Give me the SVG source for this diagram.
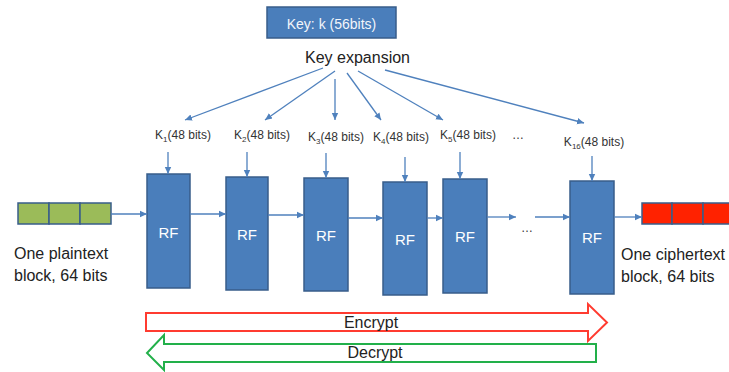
<svg xmlns="http://www.w3.org/2000/svg" width="729" height="372" viewBox="0 0 729 372">
<style>
text{font-family:"Liberation Sans",Arial,sans-serif;fill:#222}
.rf{fill:#4a7ebb;stroke:#385d8a;stroke-width:1.5}
.rft{fill:#fff;font-size:15px;text-anchor:middle}
.kl{font-size:12px;fill:#333}
.lbl{font-size:16px}
.con{stroke:#4f81bd;stroke-width:1.3;fill:none;marker-end:url(#ah)}
.g{fill:#9bbb59;stroke:#385d8a;stroke-width:1.5}
.r{fill:#ff2200;stroke:#385d8a;stroke-width:1.5}
</style>
<defs>
<marker id="ah" markerUnits="userSpaceOnUse" markerWidth="8" markerHeight="8" refX="7" refY="4" orient="auto">
<path d="M0,0.8 L7,4 L0,7.2 z" fill="#4f81bd"/>
</marker>
</defs>

<g id="key">
<rect x="267" y="7" width="129" height="31" class="rf"/>
<text x="331.5" y="29" font-size="14" text-anchor="middle" style="fill:#f2f5fa">Key: k (56bits)</text>
</g>
<g id="keyexp">
<text x="357.5" y="63" class="lbl" text-anchor="middle">Key expansion</text>
</g>

<g id="plaintext">
<rect x="18" y="203" width="31" height="21" class="g"/>
<rect x="49" y="203" width="31" height="21" class="g"/>
<rect x="80" y="203" width="31" height="21" class="g"/>
<text x="14" y="259" class="lbl">One plaintext</text>
<text x="14" y="281" class="lbl">block, 64 bits</text>
</g>
<g id="ciphertext">
<rect x="642" y="203" width="30" height="21" class="r"/>
<rect x="672" y="203" width="31" height="21" class="r"/>
<rect x="703" y="203" width="31" height="21" class="r"/>
<text x="621" y="260" class="lbl">One ciphertext</text>
<text x="621" y="282" class="lbl">block, 64 bits</text>
</g>

<g id="k1"><text x="183" y="139" class="kl" text-anchor="middle">K<tspan font-size="8" dy="3">1</tspan><tspan dy="-3">(48 bits)</tspan></text></g>
<g id="k2"><text x="262" y="139" class="kl" text-anchor="middle">K<tspan font-size="8" dy="3">2</tspan><tspan dy="-3">(48 bits)</tspan></text></g>
<g id="k3"><text x="336" y="141" class="kl" text-anchor="middle">K<tspan font-size="8" dy="3">3</tspan><tspan dy="-3">(48 bits)</tspan></text></g>
<g id="k4"><text x="401" y="141" class="kl" text-anchor="middle">K<tspan font-size="8" dy="3">4</tspan><tspan dy="-3">(48 bits)</tspan></text></g>
<g id="k5"><text x="468" y="139" class="kl" text-anchor="middle">K<tspan font-size="8" dy="3">5</tspan><tspan dy="-3">(48 bits)</tspan></text></g>
<g id="kdots"><text x="518" y="139" class="kl" text-anchor="middle">…</text></g>
<g id="k16"><text x="594" y="146" class="kl" text-anchor="middle">K<tspan font-size="8" dy="3">16</tspan><tspan dy="-3">(48 bits)</tspan></text></g>

<g id="rf1"><rect x="147" y="174" width="43" height="114" class="rf"/><text x="168.5" y="238" class="rft">RF</text></g>
<g id="rf2"><rect x="226" y="177" width="42" height="113" class="rf"/><text x="247" y="240" class="rft">RF</text></g>
<g id="rf3"><rect x="304" y="178" width="44" height="113" class="rf"/><text x="326" y="241" class="rft">RF</text></g>
<g id="rf4"><rect x="383" y="182" width="44" height="113" class="rf"/><text x="405" y="245" class="rft">RF</text></g>
<g id="rf5"><rect x="443" y="179" width="44" height="114" class="rf"/><text x="465" y="242" class="rft">RF</text></g>
<g id="rf16"><rect x="570" y="181" width="44" height="113" class="rf"/><text x="592" y="243" class="rft">RF</text></g>
<g id="dots"><text x="527" y="232" class="kl" text-anchor="middle">…</text></g>

<g id="connectors">
<line x1="323" y1="68" x2="185" y2="120" class="con"/>
<line x1="335" y1="71" x2="265" y2="120" class="con"/>
<line x1="335" y1="79" x2="335" y2="120" class="con"/>
<line x1="347" y1="73" x2="381" y2="120" class="con"/>
<line x1="358" y1="71" x2="443" y2="120" class="con"/>
<line x1="385" y1="70" x2="584" y2="123" class="con"/>

<line x1="168" y1="152" x2="168" y2="174" class="con"/>
<line x1="247" y1="152" x2="247" y2="177" class="con"/>
<line x1="326" y1="153" x2="326" y2="178" class="con"/>
<line x1="405" y1="157" x2="405" y2="182" class="con"/>
<line x1="460" y1="152" x2="460" y2="179" class="con"/>
<line x1="592" y1="156" x2="592" y2="181" class="con"/>

<line x1="111" y1="214" x2="147" y2="214" class="con"/>
<line x1="190" y1="214" x2="226" y2="214" class="con"/>
<line x1="268" y1="215" x2="304" y2="215" class="con"/>
<line x1="348" y1="218" x2="383" y2="218" class="con"/>
<line x1="427" y1="218" x2="443" y2="218" class="con"/>
<line x1="487" y1="217" x2="516" y2="217" class="con"/>
<line x1="535" y1="217" x2="570" y2="217" class="con"/>
<line x1="614" y1="217" x2="642" y2="217" class="con"/>
</g>

<g id="encrypt">
<polygon points="146,313 588,313 588,304 607,322.5 588,341 588,331 146,331" fill="#fff" stroke="#ff3b30" stroke-width="2"/>
<text x="371" y="328" class="lbl" text-anchor="middle">Encrypt</text>
</g>
<g id="decrypt">
<polygon points="596,344 164,344 164,335 147,353 164,370 164,362 596,362" fill="#fff" stroke="#22b04a" stroke-width="2"/>
<text x="375" y="358" class="lbl" text-anchor="middle">Decrypt</text>
</g>
</svg>
